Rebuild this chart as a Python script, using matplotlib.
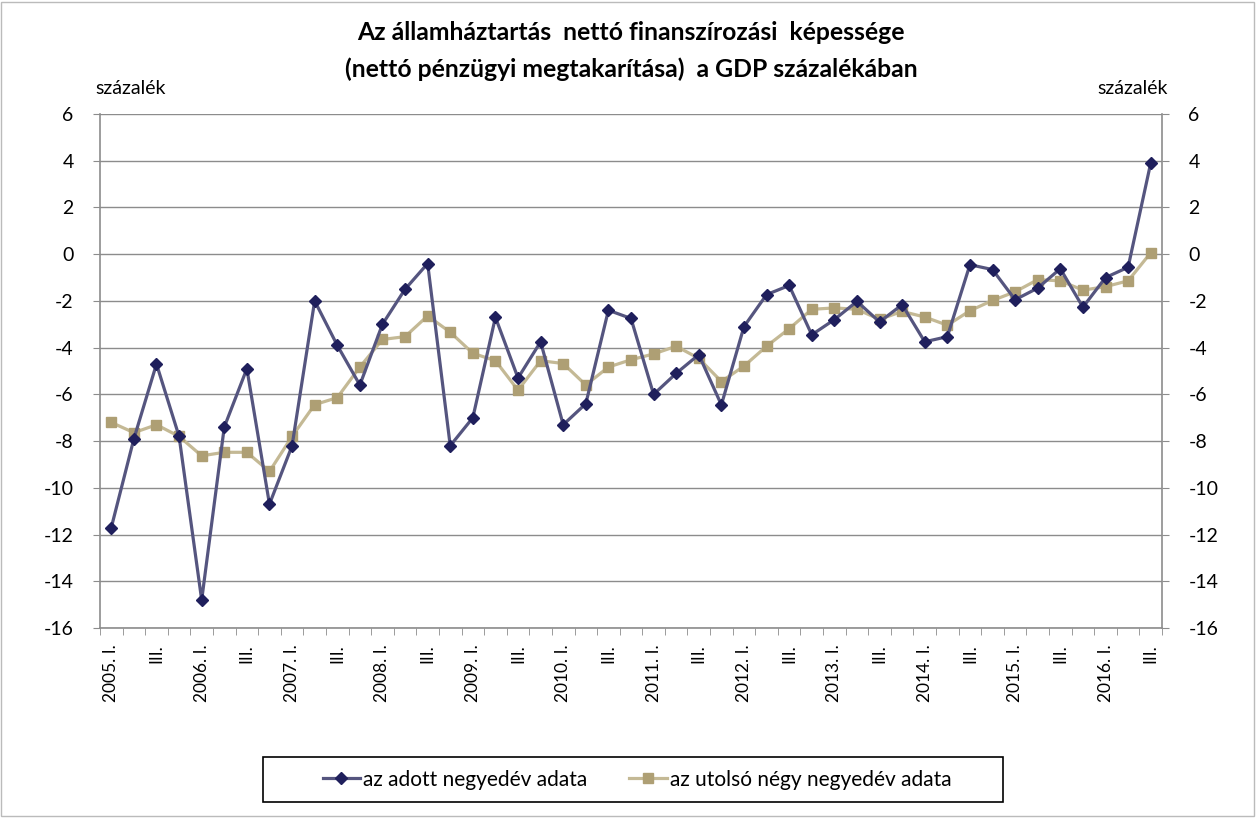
import matplotlib
matplotlib.use("Agg")
import matplotlib.pyplot as plt
from matplotlib.patches import Rectangle
import numpy as np

plt.rcParams['font.family'] = ['Lato', 'DejaVu Sans']

years = list(range(2005, 2017))
tick_labels = [("%d. I." % (2005 + i // 4)) if i % 4 == 0 else ("III." if i % 4 == 2 else "") for i in range(47)]

adott = [-11.7, -7.9, -4.7, -7.8, -14.8, -7.4, -4.9, -10.7, -8.2, -2.0, -3.9, -5.6,
         -3.0, -1.5, -0.4, -8.2, -7.0, -2.7, -5.3, -3.75, -7.3, -6.4, -2.4, -2.75,
         -6.0, -5.1, -4.3, -6.45, -3.1, -1.73, -1.34, -3.45, -2.8, -2.02, -2.9, -2.16,
         -3.75, -3.53, -0.45, -0.66, -1.95, -1.45, -0.62, -2.27, -1.0, -0.56, 3.9]
negy = [-7.2, -7.64, -7.3, -7.8, -8.63, -8.48, -8.48, -9.3, -7.8, -6.44, -6.14, -4.83,
        -3.65, -3.53, -2.64, -3.34, -4.24, -4.56, -5.82, -4.56, -4.68, -5.6, -4.83, -4.52,
        -4.27, -3.94, -4.46, -5.45, -4.79, -3.94, -3.19, -2.36, -2.3, -2.36, -2.79, -2.45,
        -2.69, -3.04, -2.42, -1.98, -1.61, -1.09, -1.14, -1.54, -1.39, -1.14, 0.06]

W, H = 1257, 818
fig = plt.figure(figsize=(W / 100, H / 100), dpi=100)
left, right, top, bottom = 100, 1162, 114, 628
ax = fig.add_axes([left / W, 1 - bottom / H, (right - left) / W, (bottom - top) / H])

x = np.arange(len(adott))
ax.plot(x, adott, color='#55557F', lw=2.3, marker='D', ms=6.5,
        mfc='#1F1F5C', mec='#1F1F5C', label='az adott negyedév adata', zorder=4)
ax.plot(x, negy, color='#C4B995', lw=2.3, marker='s', ms=7,
        mfc='#AE9F74', mec='#AE9F74', label='az utolsó négy negyedév adata', zorder=3)

ax.set_xlim(-0.5, len(adott) - 0.5)
ax.set_ylim(-16, 6)
yt = np.arange(-16, 7, 2)
ax.set_yticks(yt)
ax.set_yticklabels([str(v) for v in yt])
ax.yaxis.grid(True, color='#8C8C8C', lw=1)
ax.set_axisbelow(True)

ax.set_xticks(x)
ax.set_xticklabels(tick_labels, rotation=90, fontsize=12.5)
ax.set_xticks(np.arange(-0.5, len(adott) + 0.5, 1), minor=True)
ax.tick_params(axis='x', which='major', length=0, pad=12)
ax.tick_params(axis='x', which='minor', length=5, color='#8C8C8C', direction='out')
ax.tick_params(axis='y', which='major', length=5, color='#8C8C8C', labelsize=14, pad=14,
               left=True, right=True, labelleft=True, labelright=True)
ax.spines['top'].set_visible(False)
for s in ['left', 'right', 'bottom']:
    ax.spines[s].set_color('#8C8C8C')
    ax.spines[s].set_linewidth(1.2)

fig.text(631 / W, 1 - 33 / H, "Az államháztartás  nettó finanszírozási  képessége",
         ha='center', va='center', fontsize=17.8, fontweight='bold')
fig.text(631 / W, 1 - 69 / H, "(nettó pénzügyi megtakarítása)  a GDP százalékában",
         ha='center', va='center', fontsize=17.8, fontweight='bold')
fig.text(95 / W, 1 - 88 / H, "százalék", ha='left', va='center', fontsize=14)
fig.text(1168 / W, 1 - 88 / H, "százalék", ha='right', va='center', fontsize=14)

leg = fig.legend(loc='center', bbox_to_anchor=(637 / W, 1 - 779.5 / H), ncol=2,
                 fontsize=15, frameon=False,
                 handlelength=1.8, handletextpad=0.15, columnspacing=2.0)

fig.patches.append(Rectangle((263 / W, 1 - 802 / H), 740 / W, 45 / H, transform=fig.transFigure,
                             fill=False, edgecolor='black', lw=1.2))
fig.patches.append(Rectangle((0.001, 0.002), 0.997, 0.996, transform=fig.transFigure,
                             fill=False, edgecolor='#BBBBBB', lw=1))

fig.savefig("out.png", dpi=100)
